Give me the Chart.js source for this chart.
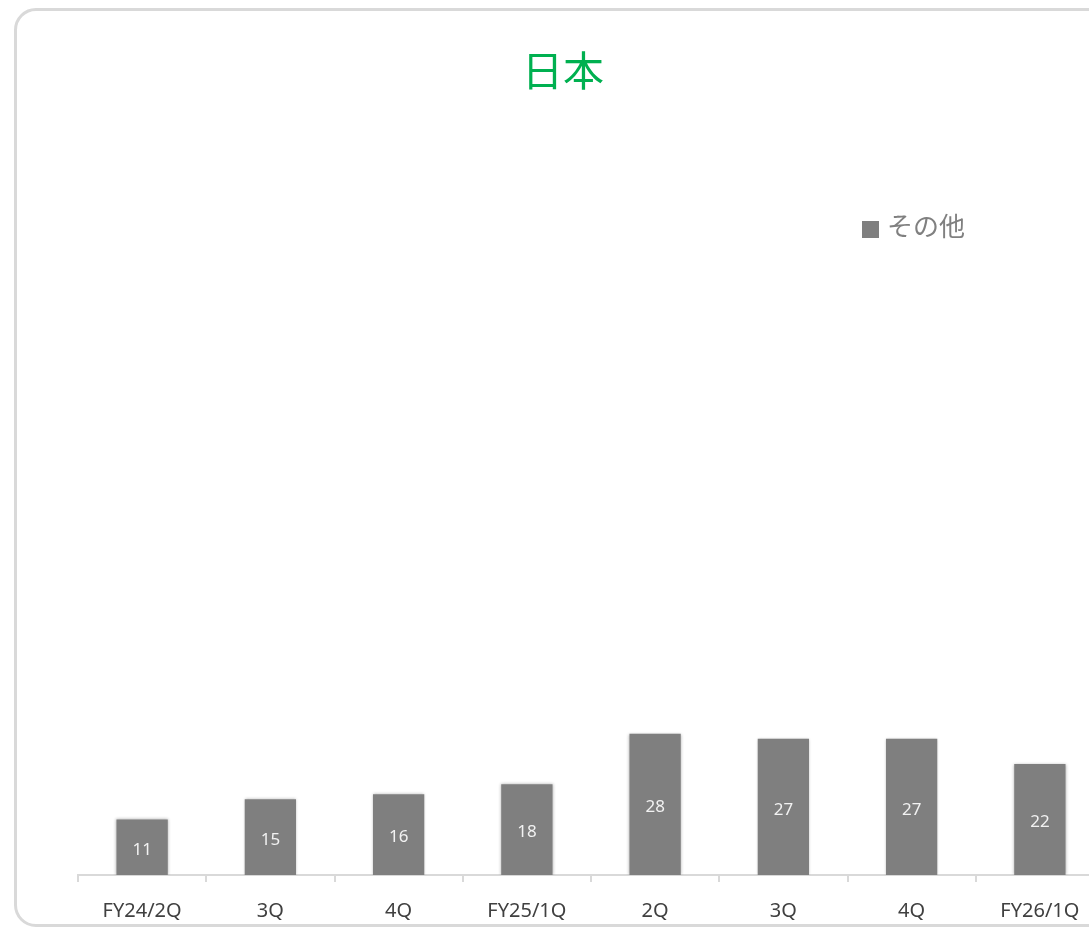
<!DOCTYPE html>
<html>
<head>
<meta charset="utf-8">
<script src="https://cdn.jsdelivr.net/npm/chart.js@4.4.1/dist/chart.umd.min.js"></script>
<style>
  html, body { margin: 0; padding: 0; background: #fff; overflow: hidden; width: 1089px; height: 930px; }
  .frame {
    position: absolute; left: 14px; top: 8px; width: 1140px; height: 919px;
    border: 3px solid #d9d9d9; border-radius: 22px; box-sizing: border-box;
  }
  .wrap { position: absolute; left: 14px; top: 8px; width: 1098px; height: 932px; }
</style>
</head>
<body>
<div class="frame"></div>
<div class="wrap"><canvas id="c"></canvas></div>
<script>
// ---- data -------------------------------------------------------------------
const TITLE      = '日本';
const CATEGORIES = ['FY24/2Q', '3Q', '4Q', 'FY25/1Q', '2Q', '3Q', '4Q', 'FY26/1Q'];
const SERIES     = 'その他';
const VALUES     = [11, 15, 16, 18, 28, 27, 27, 22];
const Y_MAX      = 150;

const FONT = "'Noto Sans', 'Noto Sans CJK JP', sans-serif";
const BAR  = '#7f7f7f';

// title, legend and value labels drawn straight onto the canvas
const decor = {
  id: 'decor',
  beforeDatasetsDraw(chart) {
    const ctx = chart.ctx;
    ctx.save();
    ctx.shadowColor = 'rgba(0,0,0,0.3)';
    ctx.shadowBlur = 3;
  },
  afterDatasetsDraw(chart) {
    const ctx = chart.ctx;
    ctx.restore();
    ctx.save();
    const meta = chart.getDatasetMeta(0);
    ctx.font = `17px ${FONT}`;
    ctx.fillStyle = '#f2f2f2';
    ctx.textAlign = 'center';
    ctx.textBaseline = 'middle';
    meta.data.forEach((bar, i) => {
      ctx.fillText(String(VALUES[i]), bar.x, (bar.y + bar.base) / 2 + 3);
    });
    ctx.restore();
  },
  afterDraw(chart) {
    const ctx = chart.ctx;
    ctx.save();
    ctx.font = `41px 'Noto Sans CJK JP', sans-serif`;
    ctx.fillStyle = '#00b050';
    ctx.textAlign = 'center';
    ctx.textBaseline = 'middle';
    ctx.fillText(TITLE, 549, 62);
    // legend
    ctx.fillStyle = BAR;
    ctx.fillRect(848, 213, 17, 17);
    ctx.font = `26px 'Noto Sans CJK JP', sans-serif`;
    ctx.fillStyle = '#808080';
    ctx.textAlign = 'left';
    ctx.fillText(chart.data.datasets[0].label, 873, 218);
    ctx.restore();
  }
};

new Chart(document.getElementById('c'), {
  type: 'bar',
  data: {
    labels: CATEGORIES,
    datasets: [{
      label: SERIES,
      data: VALUES,
      backgroundColor: BAR,
      borderWidth: 0,
      barPercentage: 0.4,
      categoryPercentage: 1.0,
    }],
  },
  options: {
    responsive: true,
    maintainAspectRatio: false,
    animation: false,
    devicePixelRatio: 1,
    layout: { padding: { top: 110, left: 64, right: 8, bottom: 0 } },
    plugins: { legend: { display: false }, title: { display: false }, tooltip: { enabled: false } },
    scales: {
      x: {
        grid: { offset: true, drawOnChartArea: false, drawTicks: true, tickLength: 7, color: '#d9d9d9', lineWidth: 2 },
        border: { display: true, color: '#d9d9d9', width: 2 },
        ticks: { color: '#404040', font: { family: FONT, size: 20 }, padding: 17, maxRotation: 0, autoSkip: false },
      },
      y: { display: false, min: 0, max: Y_MAX },
    },
  },
  plugins: [decor],
});
</script>
</body>
</html>
